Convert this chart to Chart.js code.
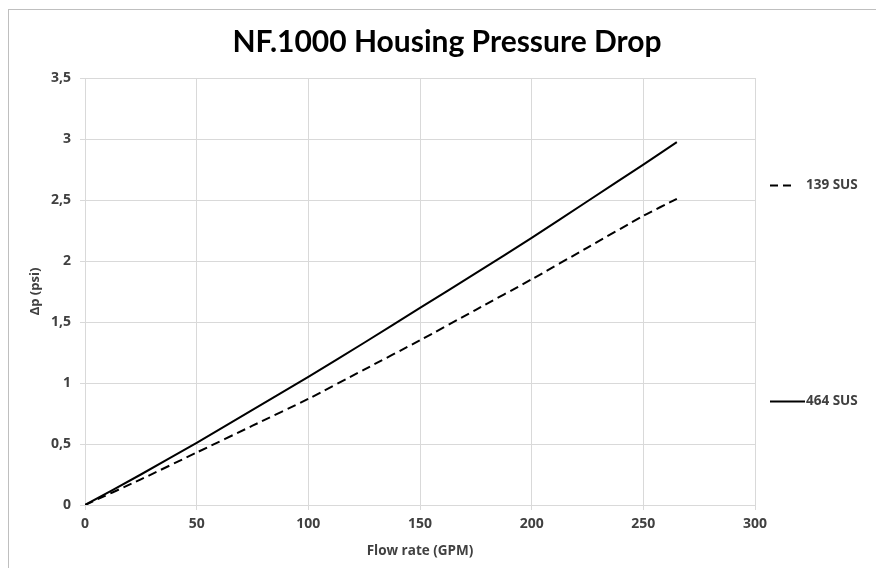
<!DOCTYPE html>
<html>
<head>
<meta charset="utf-8">
<script src="https://cdn.jsdelivr.net/npm/chart.js@4.4.1/dist/chart.umd.min.js"></script>
<style>
  html, body { margin: 0; padding: 0; background: #fff; }
  #wrap { position: relative; width: 876px; height: 568px; }
</style>
</head>
<body>
<div id="wrap"><canvas id="chart" width="876" height="568"></canvas></div>
<script>
'use strict';

// ── Data ──────────────────────────────────────────────────────
const flowRate   = [0, 25, 50, 75, 100, 125, 150, 175, 200, 225, 250, 265];
const sus139     = [0, 0.21, 0.43, 0.65, 0.87, 1.11, 1.35, 1.60, 1.85, 2.11, 2.37, 2.51];
const sus464     = [0, 0.25, 0.51, 0.78, 1.05, 1.33, 1.615, 1.90, 2.19, 2.49, 2.79, 2.975];
const seriesNames = ['139 SUS', '464 SUS'];
const xTicks     = [0, 50, 100, 150, 200, 250, 300];
const yTicks     = [0, 0.5, 1, 1.5, 2, 2.5, 3, 3.5];

const FONT = '"Open Sans", Lato, sans-serif';
const GRID = '#d9d9d9';
const TEXT = '#404040';

const toPoints = ys => flowRate.map((x, i) => ({ x, y: ys[i] }));

// ── Frame + side labels (Excel-style legend) ──────────────────
const framePlugin = {
  id: 'frame',
  afterDraw(chart) {
    const { ctx } = chart;
    ctx.save();
    ctx.strokeStyle = '#bfbfbf';
    ctx.lineWidth = 1;
    ctx.strokeRect(8.5, 9.5, 900, 600);
    ctx.restore();
  }
};

const sideLabels = {
  id: 'sideLabels',
  afterDatasetsDraw(chart) {
    const { ctx, scales } = chart;
    const anchors = [2.62, 0.85]; // value level of each label on the y scale
    ctx.save();
    chart.data.datasets.forEach((ds, i) => {
      const y = Math.round(scales.y.getPixelForValue(anchors[i])) + 0.5;
      ctx.strokeStyle = '#000';
      ctx.lineWidth = 2;
      ctx.setLineDash(ds.borderDash ? [8, 5] : []);
      ctx.beginPath();
      ctx.moveTo(770, y);
      ctx.lineTo(ds.borderDash ? 796 : 805, y);
      ctx.stroke();
      ctx.setLineDash([]);
      ctx.fillStyle = TEXT;
      ctx.font = 'bold 13.5px ' + FONT;
      ctx.textBaseline = 'middle';
      ctx.fillText(ds.label, 806, y);
    });
    ctx.restore();
  }
};

// ── Chart ─────────────────────────────────────────────────────
new Chart(document.getElementById('chart'), {
  type: 'line',
  data: {
    datasets: [
      {
        label: seriesNames[0],
        data: toPoints(sus139),
        borderColor: '#000',
        borderWidth: 2,
        borderDash: [9, 5],
        pointRadius: 0,
        tension: 0.2,
      },
      {
        label: seriesNames[1],
        data: toPoints(sus464),
        borderColor: '#000',
        borderWidth: 2,
        pointRadius: 0,
        tension: 0.2,
      },
    ],
  },
  options: {
    responsive: false,
    animation: false,
    layout: { padding: { top: 78, right: 121, left: 0, bottom: 0 } },
    plugins: {
      legend: { display: false },
      tooltip: { enabled: false },
      title: { display: false },
    },
    scales: {
      x: {
        type: 'linear',
        min: 0, max: 300,
        afterBuildTicks: s => { s.ticks = xTicks.map(v => ({ value: v })); },
        afterFit: s => { s.height = 63; },
        grid: { color: GRID, tickLength: 5, drawTicks: true },
        border: { color: GRID },
        ticks: { color: TEXT, padding: 6, maxRotation: 0, font: { family: FONT, size: 14, weight: 'bold' } },
        title: { display: true, text: 'Flow rate (GPM)', color: TEXT, padding: { top: 0, bottom: 9 },
                 font: { family: FONT, size: 13.5, weight: 'bold' } },
      },
      y: {
        min: 0, max: 3.5,
        afterBuildTicks: s => { s.ticks = yTicks.map(v => ({ value: v })); },
        afterFit: s => { s.width = 85; },
        grid: { color: GRID, tickLength: 5 },
        border: { color: GRID },
        ticks: {
          color: TEXT, padding: 9,
          font: { family: FONT, size: 14, weight: 'bold' },
          callback: v => String(v).replace('.', ','),
        },
        title: { display: true, text: 'Δp (psi)', color: TEXT, padding: { top: 27, bottom: 0 },
                 font: { family: FONT, size: 13, weight: 'bold' } },
      },
    },
  },
  plugins: [framePlugin, sideLabels, {
    id: 'mainTitle',
    afterDraw(chart) {
      const { ctx } = chart;
      ctx.save();
      ctx.fillStyle = '#000';
      ctx.font = 'bold 30px Lato, sans-serif';
      ctx.textAlign = 'center';
      ctx.textBaseline = 'middle';
      ctx.fillText('NF.1000 Housing Pressure Drop', 447, 42);
      ctx.restore();
    }
  }],
});
</script>
</body>
</html>
